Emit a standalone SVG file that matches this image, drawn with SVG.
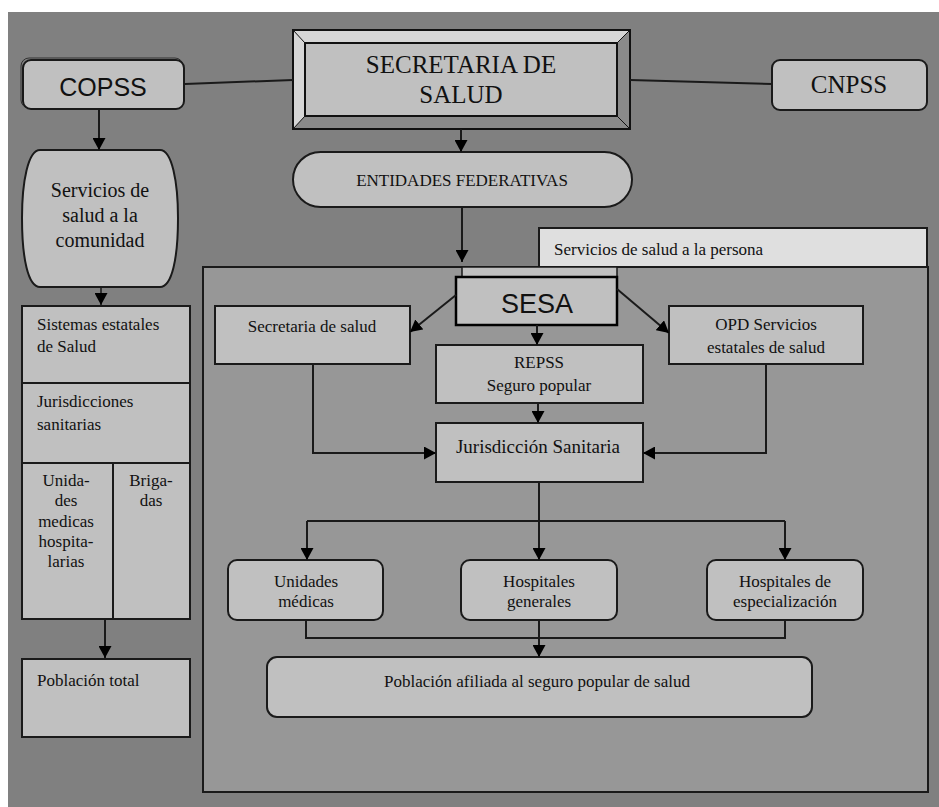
<svg xmlns="http://www.w3.org/2000/svg" width="939" height="807" viewBox="0 0 939 807">
<style>
.bx{fill:#c0c0c0;stroke:#1a1a1a;stroke-width:2}
.t{font-family:"Liberation Serif","Times New Roman",serif;font-size:17px;fill:#111}
.c{text-anchor:middle}
.a{font-family:"Liberation Sans",Arial,sans-serif;fill:#111;text-anchor:middle}
.ln{fill:none;stroke:#1a1a1a;stroke-width:2}
</style>
<defs>
<marker id="ah" markerUnits="userSpaceOnUse" markerWidth="13" markerHeight="13" refX="12" refY="6.5" orient="auto">
<path d="M0,0 L12,6.5 L0,13 Z" fill="#000"/>
</marker>
</defs>
<rect x="0" y="0" width="939" height="807" fill="#fff"/>
<rect x="8" y="12" width="931" height="795" fill="#808080"/>

<g id="container">
<rect x="203" y="267" width="725" height="525" fill="#979797" stroke="#1a1a1a" stroke-width="2"/>
</g>
<g id="persona">
<rect x="539" y="228" width="388" height="39" fill="#dfdfdf" stroke="#1a1a1a" stroke-width="2"/>
<text class="t" x="554" y="255">Servicios de salud a la persona</text>
</g>

<g id="secretaria">
<rect x="293" y="30" width="337" height="99" fill="#c0c0c0" stroke="#111" stroke-width="2"/>
<polygon points="293,30 630,30 617,43 305,43" fill="#d6d6d6"/>
<polygon points="293,30 305,43 305,116 293,129" fill="#d6d6d6"/>
<polygon points="630,30 630,129 617,116 617,43" fill="#8a8a8a"/>
<polygon points="293,129 305,116 617,116 630,129" fill="#8a8a8a"/>
<rect x="293" y="30" width="337" height="99" fill="none" stroke="#111" stroke-width="2"/>
<rect x="305" y="43" width="312" height="73" fill="#c0c0c0" stroke="#111" stroke-width="2"/>
<path d="M293,30 L305,43 M630,30 L617,43 M293,129 L305,116 M630,129 L617,116" stroke="#111" stroke-width="1"/>
<text class="t c" x="461" y="73" style="font-size:25px">SECRETARIA DE</text>
<text class="t c" x="461" y="103" style="font-size:25px">SALUD</text>
</g>

<g id="copss">
<rect x="21" y="58" width="162" height="50" rx="8" fill="none" stroke="#333" stroke-width="1"/>
<rect x="23" y="60" width="161" height="49" rx="8" class="bx" stroke-width="2.5"/>
<text class="a" x="103" y="96" style="font-size:25px">COPSS</text>
</g>

<g id="cnpss">
<rect x="772" y="60" width="155" height="50" rx="8" class="bx"/>
<text class="t c" x="849" y="93" style="font-size:25px">CNPSS</text>
</g>

<g id="entidades">
<rect x="293" y="152" width="339" height="55" rx="27.5" class="bx"/>
<text class="t c" x="462" y="186">ENTIDADES FEDERATIVAS</text>
</g>

<g id="comunidad">
<path d="M40,150 L160,150 C172,150 178,182 178,218 C178,258 172,287 160,287 L40,287 C28,287 22,258 22,218 C22,182 28,150 40,150 Z" class="bx"/>
<text class="t c" x="100" y="197" style="font-size:20px">Servicios de</text>
<text class="t c" x="100" y="222" style="font-size:20px">salud a la</text>
<text class="t c" x="100" y="247" style="font-size:20px">comunidad</text>
</g>

<g id="sistemas">
<rect x="22" y="306" width="168" height="77" class="bx"/>
<text class="t" x="37" y="330">Sistemas estatales</text>
<text class="t" x="37" y="352">de Salud</text>
</g>
<g id="jurisdicciones">
<rect x="22" y="383" width="168" height="80" class="bx"/>
<text class="t" x="37" y="407">Jurisdicciones</text>
<text class="t" x="37" y="430">sanitarias</text>
</g>
<g id="unidades-hosp">
<rect x="22" y="463" width="91" height="156" class="bx"/>
<text class="t c" x="66" y="486">Unida-</text>
<text class="t c" x="66" y="506">des</text>
<text class="t c" x="66" y="527">medicas</text>
<text class="t c" x="66" y="547">hospita-</text>
<text class="t c" x="66" y="567">larias</text>
</g>
<g id="brigadas">
<rect x="113" y="463" width="77" height="156" class="bx"/>
<text class="t c" x="151" y="486">Briga-</text>
<text class="t c" x="151" y="506">das</text>
</g>
<g id="poblacion-total">
<rect x="22" y="659" width="168" height="78" class="bx"/>
<text class="t" x="37" y="686">Población total</text>
</g>

<g id="sesa">
<rect x="462" y="267" width="155" height="10" fill="#c0c0c0" stroke="#1a1a1a" stroke-width="1.5"/>
<rect x="456" y="277" width="161" height="48" fill="#c0c0c0" stroke="#000" stroke-width="2.5"/>
<text class="a" x="537" y="313" style="font-size:27px">SESA</text>
</g>

<g id="secretaria-salud">
<rect x="215" y="306" width="195" height="58" class="bx"/>
<text class="t c" x="312" y="332">Secretaria de salud</text>
</g>
<g id="repss">
<rect x="436" y="345" width="207" height="58" class="bx"/>
<text class="t c" x="539" y="368">REPSS</text>
<text class="t c" x="539" y="391">Seguro popular</text>
</g>
<g id="opd">
<rect x="669" y="306" width="194" height="58" class="bx"/>
<text class="t c" x="766" y="330">OPD Servicios</text>
<text class="t c" x="766" y="353">estatales de salud</text>
</g>
<g id="jurisdiccion">
<rect x="436" y="423" width="207" height="59" class="bx"/>
<text class="t c" x="538" y="453" style="font-size:19px">Jurisdicción Sanitaria</text>
</g>
<g id="unidades-medicas">
<rect x="228" y="560" width="155" height="60" rx="9" class="bx"/>
<text class="t c" x="306" y="587">Unidades</text>
<text class="t c" x="306" y="607">médicas</text>
</g>
<g id="hospitales-generales">
<rect x="461" y="560" width="156" height="60" rx="9" class="bx"/>
<text class="t c" x="539" y="587">Hospitales</text>
<text class="t c" x="539" y="607">generales</text>
</g>
<g id="hospitales-especializacion">
<rect x="707" y="560" width="156" height="60" rx="9" class="bx"/>
<text class="t c" x="785" y="587">Hospitales de</text>
<text class="t c" x="785" y="607">especialización</text>
</g>
<g id="poblacion-afiliada">
<rect x="267" y="657" width="545" height="60" rx="10" class="bx"/>
<text class="t c" x="537" y="687">Población afiliada al seguro popular de salud</text>
</g>

<g id="connectors">
<path class="ln" d="M185,84 L293,80"/>
<path class="ln" d="M630,80 L772,84"/>
<path class="ln" d="M99,109 L99,150" marker-end="url(#ah)"/>
<path class="ln" d="M461,129 L461,152" marker-end="url(#ah)"/>
<path class="ln" d="M462,207 L462,262" marker-end="url(#ah)"/>
<path class="ln" d="M101,287 L101,305" marker-end="url(#ah)" style="stroke-width:1.5"/>
<path class="ln" d="M105,619 L105,658" marker-end="url(#ah)"/>
<path class="ln" d="M456,295 L410,332" marker-end="url(#ah)"/>
<path class="ln" d="M617,289 L669,333" marker-end="url(#ah)"/>
<path class="ln" d="M537,325 L537,345" marker-end="url(#ah)"/>
<path class="ln" d="M538,403 L538,423" marker-end="url(#ah)"/>
<path class="ln" d="M313,364 L313,453 L436,453" marker-end="url(#ah)"/>
<path class="ln" d="M766,364 L766,453 L643,453" marker-end="url(#ah)"/>
<path class="ln" d="M539,482 L539,560" marker-end="url(#ah)"/>
<path class="ln" d="M307,521 L785,521"/>
<path class="ln" d="M307,521 L307,560" marker-end="url(#ah)"/>
<path class="ln" d="M785,521 L785,560" marker-end="url(#ah)"/>
<path class="ln" d="M306,620 L306,638 L785,638 L785,620"/>
<path class="ln" d="M539,620 L539,657" marker-end="url(#ah)"/>
</g>
</svg>
